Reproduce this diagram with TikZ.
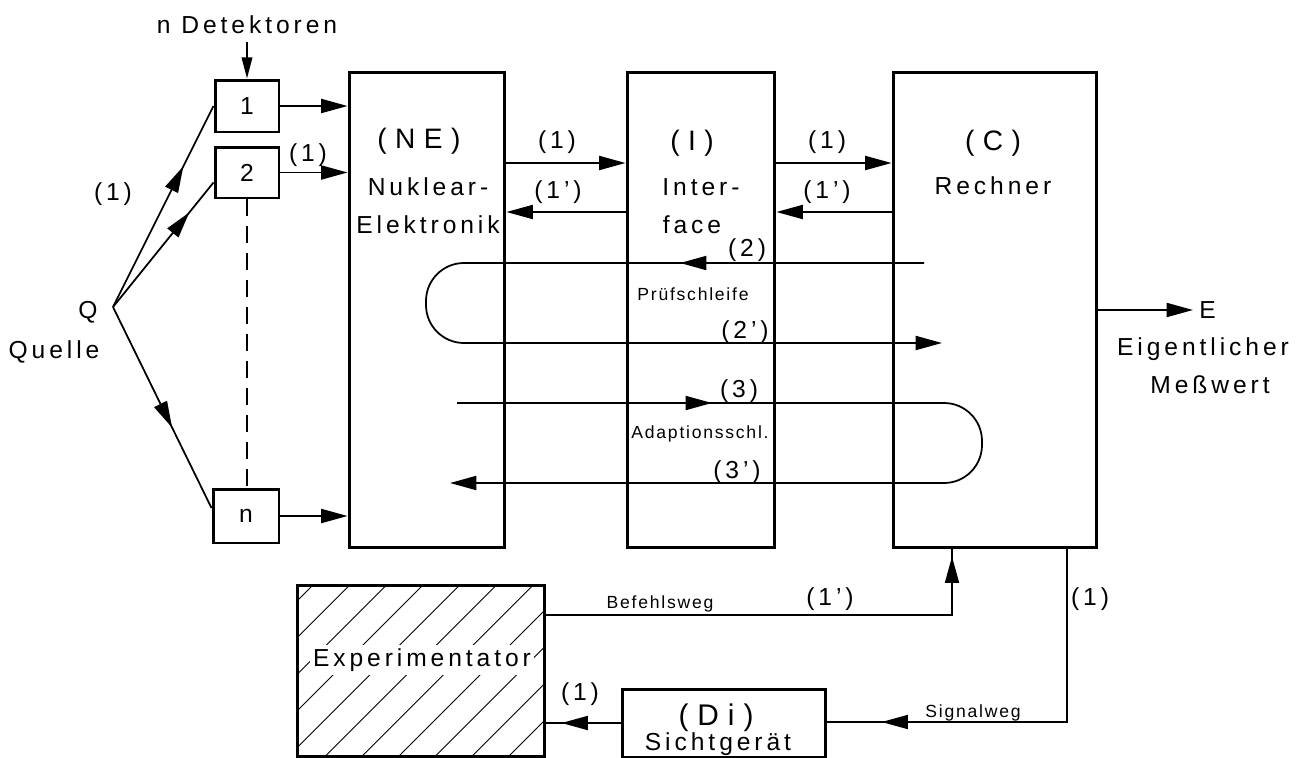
\documentclass[tikz,border=0pt]{standalone}
\usepackage{fontspec}
\setmainfont{Liberation Sans}[LetterSpace=16]
\newfontfamily\smallf{Liberation Sans}[LetterSpace=10]
\newfontfamily\titlef{Liberation Sans}[LetterSpace=30]
\usetikzlibrary{arrows.meta,decorations.markings}
\tikzset{
  box/.style={draw, line width=1.7pt, inner sep=0pt},
  con/.style={line width=1pt},
  tri/.tip={Triangle[length=15pt,width=8pt]},
  arr/.style={con,-{tri}},
  midarr/.style={postaction={decorate},decoration={markings,mark=at position #1 with {\arrow{tri}}}},
  lbl/.style={anchor=base, inner sep=0pt, font=\fontsize{14}{16}\selectfont},
  num/.style={anchor=base, inner sep=0pt, font=\fontsize{14}{16}\selectfont},
  sml/.style={anchor=base, inner sep=0pt, font=\smallf\fontsize{10}{12}\selectfont},
  ttl/.style={anchor=base, inner sep=0pt, font=\titlef\fontsize{16}{18}\selectfont},
  boxtxt/.style={font=\fontsize{14}{16}\selectfont},
}
\begin{document}
\begin{tikzpicture}[x=0.02cm,y=-0.02cm]
\useasboundingbox (0,0) rectangle (1303,758);

% detector boxes
\node[box, boxtxt, minimum width=1.28cm, minimum height=1.04cm] (d1) at (247,106) {1};
\node[box, boxtxt, minimum width=1.28cm, minimum height=1.02cm] (d2) at (247,172.5) {2};
\node[box, boxtxt, minimum width=1.32cm, minimum height=1.08cm] (dn) at (246,516) {n};

% main blocks
\node[box, minimum width=3.12cm, minimum height=9.52cm] (NE) at (427,310) {};
\node[box, minimum width=2.96cm, minimum height=9.52cm] (I) at (701,310) {};
\node[box, minimum width=4.08cm, minimum height=9.52cm] (C) at (995,310) {};

% source and detector labels
\node[lbl] (ndet) at (247,33) {n Detektoren};
\coordinate (ndetarr) at (247,42);
\draw[con,-{Triangle[length=12pt,width=6pt]}] (ndetarr) -- (d1.north);
\node[lbl] (qlab) at (88,318) {Q};
\node[lbl] (quelle) at (54,358) {Quelle};
\node[num] (l1a) at (113,200) {(1)};
\node[num] (l1b) at (308,161) {(1)};
\coordinate (Q) at (113,307);
\draw[con, midarr=0.7] (Q) -- (d1.west);
\draw[con, midarr=0.76] (Q) -- ([yshift=-0.2cm]d2.west);
\draw[con, midarr=0.6] (Q) -- ([yshift=0.16cm]dn.west);
\draw[con, dash pattern=on 0.34cm off 0.2cm] (d2.south) -- (d2.south |- dn.north);
\draw[arr] (d1.east) -- (d1.east -| NE.west);
\draw[arr] (d2.east) -- (d2.east -| NE.west);
\draw[arr] (dn.east) -- (dn.east -| NE.west);

% block texts
\node[ttl] (tNE) at (419,148) {(NE)};
\node[lbl] (tNE1) at (428,195) {Nuklear-};
\node[lbl] (tNE2) at (428,233) {Elektronik};
\node[ttl] (tI) at (692,150) {(I)};
\node[lbl] (tI1) at (701,195) {Inter-};
\node[lbl] (tI2) at (692,233) {face};
\node[ttl] (tC) at (993,150) {(C)};
\node[lbl] (tC1) at (993,194) {Rechner};

% data paths between blocks
\coordinate (ya) at (0,163);
\coordinate (yb) at (0,212);
\draw[arr] (NE.east |- ya) -- (I.west |- ya);
\draw[arr] (I.west |- yb) -- (NE.east |- yb);
\draw[arr] (I.east |- ya) -- (C.west |- ya);
\draw[arr] (C.west |- yb) -- (I.east |- yb);
\node[num] (la1) at (557,148) {(1)};
\node[num] (la2) at (558,198) {(1')};
\node[num] (lb1) at (827,148) {(1)};
\node[num] (lb2) at (827,198) {(1')};

% test loop
\coordinate (p2s) at (924,263);
\coordinate (p2a) at (426,263);
\coordinate (p2b) at (426,343);
\coordinate (p2e) at (942,343);
\draw[con, -{tri}, rounded corners=0.76cm, midarr=4.88cm] (p2s) -- (p2a) -- (p2b) -- (p2e);
\node[num] (l2) at (747,256) {(2)};
\node[sml] (pruef) at (693,300) {Prüfschleife};
\node[num] (l2p) at (745,338) {(2')};

% adaption loop
\coordinate (p3s) at (457,403);
\coordinate (p3a) at (982,403);
\coordinate (p3b) at (982,483);
\coordinate (p3e) at (450,483);
\draw[con, -{tri}, rounded corners=0.76cm, midarr=5.1cm] (p3s) -- (p3a) -- (p3b) -- (p3e);
\node[num] (l3) at (739,397) {(3)};
\node[sml] (adapt) at (700,438) {Adaptionsschl.};
\node[num] (l3p) at (737,478) {(3')};

% output E
\coordinate (Eend) at (1193,310);
\draw[arr] (C.east) -- (Eend);
\node[lbl, anchor=base west] (Elab) at (1199,318) {E};
\node[lbl] (eig) at (1203,355) {Eigentlicher};
\node[lbl] (mess) at (1210,393) {Meßwert};

% experimentator with hatching
\begin{scope}
\clip (297,585) rectangle (545,757);
\foreach \k in {-1,...,11} \draw[line width=0.5pt] ({313+36.7*\k},585) -- ++(-172,172);
\end{scope}
\node[box, minimum width=4.96cm, minimum height=3.44cm] (Exp) at (421,671) {};
\node[lbl, fill=white, inner sep=2pt] (texp) at (422,666) {Experimentator};

% display
\node[box, minimum width=4.08cm, minimum height=1.36cm] (Di) at (724,723) {};
\node[lbl, font=\titlef\fontsize{17}{19}\selectfont] (tDi) at (716,725) {(Di)};
\node[lbl] (tDi1) at (718,750) {Sichtgerät};

% command and signal paths
\coordinate (bf) at (952,615);
\draw[con, midarr=9.28cm] (Exp.east |- bf) -- (bf) -- (bf |- C.south);
\node[sml] (befehl) at (660,608) {Befehlsweg};
\node[num] (lbf) at (830,605) {(1')};
\coordinate (sg) at (1067,722);
\draw[con, midarr=7.16cm] (sg |- C.south) -- (sg) -- (Di.east |- sg);
\node[num] (lsg) at (1090,605) {(1)};
\node[sml] (signal) at (973,717) {Signalweg};
\draw[con, midarr=1.18cm] (Di.west) -- (Di.west -| Exp.east);
\node[num] (ldi) at (580,700) {(1)};
\end{tikzpicture}
\end{document}
